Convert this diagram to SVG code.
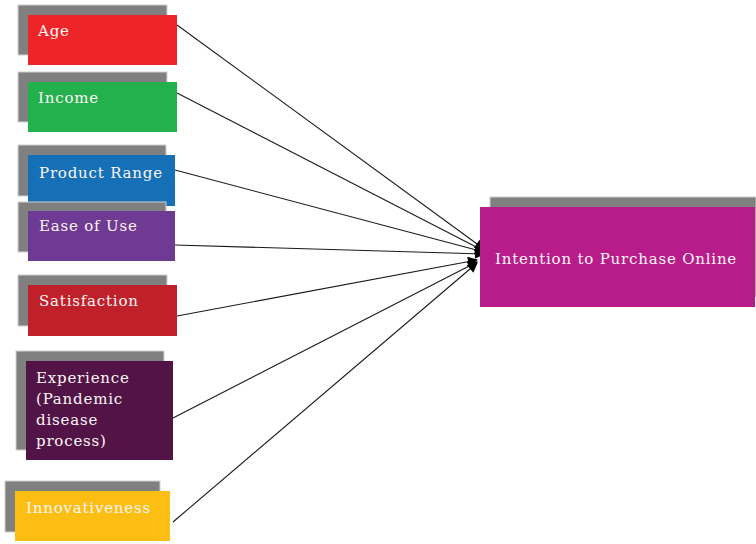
<svg xmlns="http://www.w3.org/2000/svg" width="756" height="544" viewBox="0 0 756 544">
<defs>
<style>
.sh{fill:#808080;stroke:#d0d0d0;stroke-width:1}
.t{font-family:"DejaVu Serif","Liberation Serif",serif;font-size:15px;letter-spacing:0.8px;fill:#fdf6f6}
.c{stroke:#1a1a1a;stroke-width:1.1;fill:none;marker-end:url(#ah)}
</style>
<marker id="ah" viewBox="0 0 10 10" refX="9" refY="5" markerWidth="11" markerHeight="10" markerUnits="userSpaceOnUse" orient="auto"><path d="M0,0 L10,5 L0,10 z" fill="#000"/></marker>
</defs>
<rect width="756" height="544" fill="#fff"/>
<g id="connectors">
<line class="c" x1="177" y1="25" x2="484" y2="249"/>
<line class="c" x1="177" y1="93" x2="484" y2="251"/>
<line class="c" x1="175" y1="170" x2="484" y2="252"/>
<line class="c" x1="175" y1="245" x2="484" y2="254"/>
<line class="c" x1="177" y1="316" x2="477" y2="260"/>
<line class="c" x1="173" y1="418" x2="477" y2="262"/>
<line class="c" x1="173" y1="522" x2="477" y2="263"/>
</g>
<g id="age">
<rect class="sh" x="18" y="5" width="149" height="50"/>
<rect x="28" y="15" width="149" height="50" fill="#ee2528"/>
<text class="t" x="38" y="36">Age</text>
</g>
<g id="income">
<rect class="sh" x="18" y="72" width="149" height="50"/>
<rect x="28" y="82" width="149" height="50" fill="#22b14c"/>
<text class="t" x="38" y="103">Income</text>
</g>
<g id="product-range">
<rect class="sh" x="18" y="145" width="148" height="51"/>
<rect x="28" y="155" width="147" height="51" fill="#1570b8"/>
<text class="t" x="39" y="178">Product Range</text>
</g>
<g id="ease-of-use">
<rect class="sh" x="18" y="202" width="148" height="50"/>
<rect x="28" y="211" width="147" height="50" fill="#6f3a93"/>
<text class="t" x="39" y="231">Ease of Use</text>
</g>
<g id="satisfaction">
<rect class="sh" x="18" y="275" width="149" height="51"/>
<rect x="28" y="285" width="149" height="51" fill="#c0202a"/>
<text class="t" x="39" y="306">Satisfaction</text>
</g>
<g id="experience">
<rect class="sh" x="16" y="351" width="148" height="99"/>
<rect x="26" y="361" width="147" height="99" fill="#521447"/>
<text class="t" x="36" y="383">Experience</text>
<text class="t" x="36" y="404">(Pandemic</text>
<text class="t" x="36" y="425">disease</text>
<text class="t" x="36" y="446">process)</text>
</g>
<g id="innovativeness">
<rect class="sh" x="5" y="481" width="155" height="51"/>
<rect x="15" y="491" width="155" height="50" fill="#fdbe14"/>
<text class="t" x="26" y="513">Innovativeness</text>
</g>
<g id="intention">
<rect class="sh" x="490" y="197" width="266" height="100"/>
<rect x="480" y="207" width="275" height="100" fill="#b81c8a"/>
<text class="t" x="495" y="264">Intention to Purchase Online</text>
</g>
</svg>
